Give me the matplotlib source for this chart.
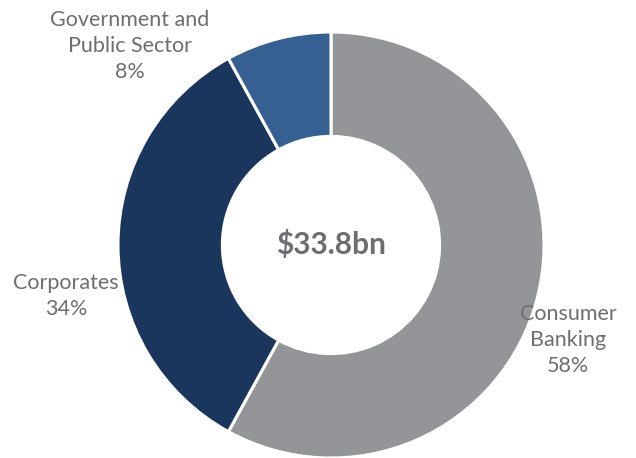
import matplotlib.pyplot as plt

segments = ['Consumer\nBanking', 'Corporates', 'Government and\nPublic Sector']
shares = [58, 34, 8]
colours = ['#939598', '#1b365d', '#366092']
total_label = '$33.8bn'

plt.rcParams['font.family'] = ['Lato', 'DejaVu Sans']
text_col = '#6d6e71'

fig = plt.figure(figsize=(6.36, 4.58), dpi=100)
ax = fig.add_axes([0, 0, 1, 1])

# donut, clockwise from 12 o'clock
ax.pie(shares, colors=colours, startangle=90, counterclock=False, radius=1.0,
       wedgeprops=dict(width=0.49, edgecolor='white', linewidth=2.2))

# pixel -> data helper (centre at 331,245, radius 213 px)
def px(x, y):
    return (x - 331) / 213, (245 - y) / 213

label_pos = [px(568, 340), px(66, 296), px(130, 46)]
for name, val, pos in zip(segments, shares, label_pos):
    ax.text(pos[0], pos[1], f'{name}\n{val}%', ha='center', va='center',
            fontsize=15.5, color=text_col, linespacing=1.4)

ax.text(0, 0, total_label, ha='center', va='center', fontsize=21.5,
        fontweight='bold', color=text_col)

ax.set_xlim(-331 / 213, (636 - 331) / 213)
ax.set_ylim(-(458 - 245) / 213, 245 / 213)
ax.set_aspect('auto')
ax.axis('off')

plt.savefig('out.png', dpi=100)
